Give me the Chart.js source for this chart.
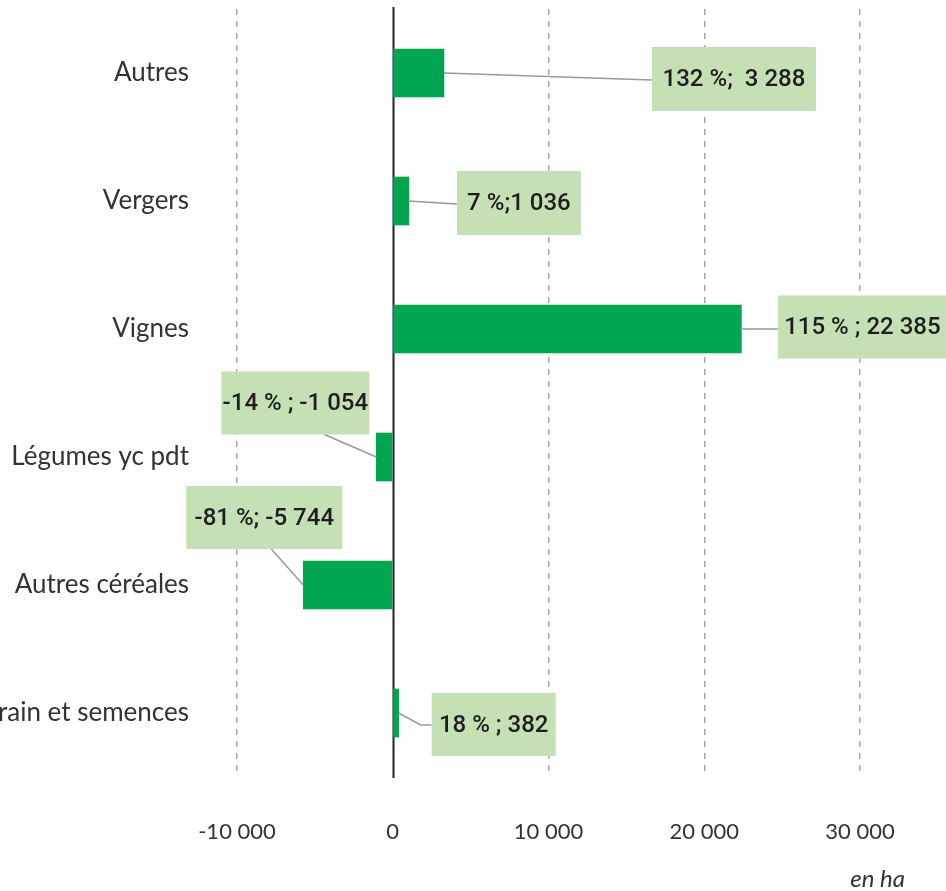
<!DOCTYPE html>
<html>
<head>
<meta charset="utf-8">
<script src="https://cdn.jsdelivr.net/npm/chart.js@4/dist/chart.umd.min.js"></script>
<style>
html,body{margin:0;padding:0;background:#fff;}
#wrap{width:946px;height:891px;position:relative;}
</style>
</head>
<body>
<div id="wrap"><canvas id="c" width="946" height="891"></canvas></div>
<script>
// ---- data ----
const categories = ["Autres", "Vergers", "Vignes", "Légumes yc pdt", "Autres céréales", "Grain et semences"];
const values = [3288, 1036, 22385, -1054, -5744, 382];
const boxLabels = ["132 %;  3 288", "7 %;1 036", "115 % ; 22 385", "-14 % ; -1 054", "-81 %; -5 744", "18 % ; 382"];
const xTicks = [-10000, 0, 10000, 20000, 30000];
const unitLabel = "en ha";

// ---- label box layout (offsets relative to bar end) ----
const boxLayout = [
  {dx: 290, dy: 6,    w: 164, h: 64, ax: -82,   ay: 1},
  {dx: 110, dy: 2,    w: 124, h: 64, ax: -62,   ay: 1},
  {dx: 121, dy: -2,   w: 169, h: 63, ax: -84.5, ay: 2},
  {dx: -81, dy: -54,  w: 148, h: 63, ax: 29,    ay: 31.5},
  {dx: -39, dy: -67.5,w: 156, h: 63, ax: 7,     ay: 31.5},
  {dx: 95,  dy: 11.5, w: 124, h: 63, ax: -62,   ay: 0.5, ex: -73}
];

const fmt = v => {
  const s = Math.abs(v).toString().replace(/\B(?=(\d{3})+(?!\d))/g, " ");
  return (v < 0 ? "-" : "") + s;
};

const annotPlugin = {
  id: 'annot',
  beforeDatasetsDraw(chart) {
    const ctx = chart.ctx, xs = chart.scales.x, a = chart.chartArea;
    const x0 = Math.round(xs.getPixelForValue(0)) + 0.5;
    ctx.save();
    ctx.strokeStyle = '#222';
    ctx.lineWidth = 2;
    ctx.beginPath();
    ctx.moveTo(x0, a.top - 2);
    ctx.lineTo(x0, a.bottom + 1);
    ctx.stroke();
    ctx.restore();
  },
  afterDatasetsDraw(chart) {
    const ctx = chart.ctx;
    const meta = chart.getDatasetMeta(0);
    ctx.save();
    meta.data.forEach((bar, i) => {
      const L = boxLayout[i];
      const ex = bar.x, ey = bar.y;
      const cx = ex + L.dx, cy = ey + L.dy;
      const axp = cx + L.ax, ayp = cy + L.ay;
      // leader
      ctx.strokeStyle = '#9a9a9a';
      ctx.lineWidth = 1.5;
      ctx.beginPath();
      ctx.moveTo(ex, ey);
      if (L.ex !== undefined) ctx.lineTo(cx + L.ex, ayp);
      ctx.lineTo(axp, ayp);
      ctx.stroke();
      // box
      ctx.fillStyle = '#c5e0b4';
      ctx.fillRect(cx - L.w / 2, cy - L.h / 2, L.w, L.h);
      ctx.fillStyle = '#1e1e1e';
      ctx.font = '500 24px Roboto';
      ctx.textAlign = 'center';
      ctx.textBaseline = 'middle';
      ctx.fillText(boxLabels[i], cx, cy + 1);
    });
    ctx.restore();
  },
  afterDraw(chart) {
    const ctx = chart.ctx;
    ctx.save();
    ctx.fillStyle = '#333';
    ctx.font = 'italic 24px Lato';
    ctx.textAlign = 'right';
    ctx.textBaseline = 'alphabetic';
    ctx.fillText(unitLabel, 905, 887);
    ctx.restore();
  }
};

new Chart(document.getElementById('c'), {
  type: 'bar',
  data: {
    labels: categories,
    datasets: [{
      data: values,
      backgroundColor: '#00a54f',
      borderWidth: 0,
      barThickness: 48
    }]
  },
  options: {
    indexAxis: 'y',
    responsive: false,
    animation: false,
    layout: {padding: {top: 9, right: 86, left: 0, bottom: 0}},
    plugins: {legend: {display: false}, tooltip: {enabled: false}},
    scales: {
      x: {
        min: -10000,
        max: 30000,
        afterBuildTicks: s => { s.ticks = xTicks.map(v => ({value: v})); },
        afterFit: s => { s.height = 114; s.paddingLeft = 0; s.paddingRight = 0; },
        grid: {
          drawTicks: false,
          lineWidth: 1.5,
          color: c => (c.tick && c.tick.value === 0) ? 'rgba(0,0,0,0)' : '#a8a8a8'
        },
        border: {display: false, dash: [6, 6]},
        ticks: {
          padding: 42,
          color: '#333',
          font: {family: 'Lato', size: 22},
          callback: v => fmt(v)
        }
      },
      y: {
        afterFit: s => { s.width = 237; s.paddingTop = 0; s.paddingBottom = 0; },
        grid: {display: false},
        border: {display: false},
        ticks: {
          padding: 40,
          color: '#333',
          font: {family: 'Lato', size: 26}
        }
      }
    }
  },
  plugins: [annotPlugin]
});
</script>
</body>
</html>
